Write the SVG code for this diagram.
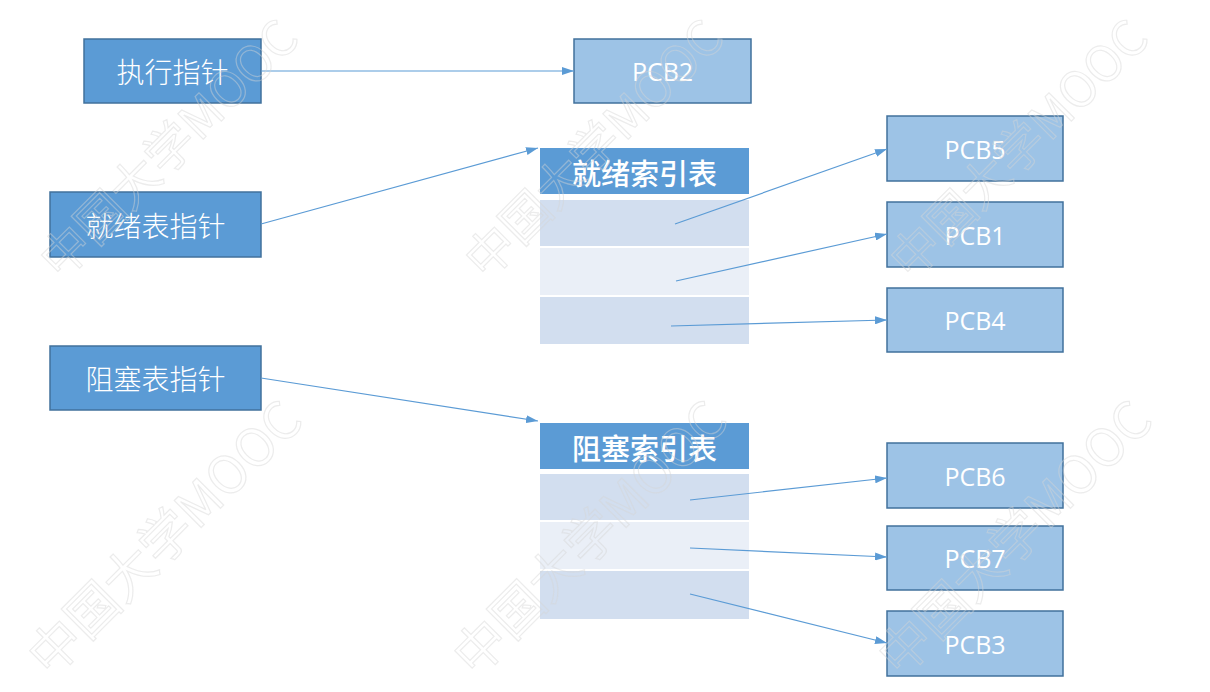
<svg xmlns="http://www.w3.org/2000/svg" width="1210" height="692" viewBox="0 0 1210 692">
  <defs>
    <marker id="arrow" viewBox="0 0 12 8" refX="12" refY="4" markerWidth="12" markerHeight="8" markerUnits="userSpaceOnUse" orient="auto">
      <path d="M0,0 L12,4 L0,8 Z" fill="#5b9bd5"/>
    </marker>
    <style>
      .ptr { fill: #5b9bd5; stroke: #41719c; stroke-width: 1.5; }
      .pcb { fill: #9dc3e6; stroke: #41719c; stroke-width: 1.5; }
      .hdr { fill: #5b9bd5; }
      .odd { fill: #d2deef; }
      .even { fill: #eaeff7; }
      .cn { font-family: "Noto Sans CJK SC", sans-serif; font-size: 28px; font-weight: 300; fill: #ffffff; text-anchor: middle; dominant-baseline: central; }
      .cnb { font-family: "Noto Sans CJK SC", sans-serif; font-size: 29px; font-weight: 500; fill: #ffffff; text-anchor: middle; dominant-baseline: central; }
      .en { font-family: "Open Sans", "Liberation Sans", sans-serif; font-size: 25px; fill: #ffffff; text-anchor: middle; dominant-baseline: central; }
      .link { stroke: #5b9bd5; stroke-width: 1.2; fill: none; marker-end: url(#arrow); }
      .wm { font-family: "Noto Sans CJK SC", sans-serif; font-size: 52px; fill: none; stroke: #d4d4d4; stroke-opacity: 0.45; stroke-width: 1.2; text-anchor: middle; dominant-baseline: central; }
      .wm-top { font-size: 49px; }
    </style>
  </defs>

  <rect width="1210" height="692" fill="#ffffff"/>

  <!-- pointers -->
  <g id="exec-ptr">
    <rect class="ptr" x="84" y="39" width="177" height="64"/>
    <text class="cn" x="172.5" y="71">执行指针</text>
  </g>
  <g id="ready-ptr">
    <rect class="ptr" x="50" y="192" width="211" height="65"/>
    <text class="cn" x="155.5" y="224.5">就绪表指针</text>
  </g>
  <g id="blocked-ptr">
    <rect class="ptr" x="50" y="346" width="211" height="64"/>
    <text class="cn" x="155.5" y="378">阻塞表指针</text>
  </g>

  <!-- running PCB -->
  <g id="pcb2">
    <rect class="pcb" x="574" y="39" width="177" height="64"/>
    <text class="en" x="662.5" y="71">PCB2</text>
  </g>

  <!-- ready index table -->
  <g id="ready-table">
    <rect class="hdr" x="540" y="148" width="209" height="46"/>
    <text class="cnb" x="644.5" y="172">就绪索引表</text>
    <rect class="odd" x="540" y="200" width="209" height="46"/>
    <rect class="even" x="540" y="248" width="209" height="47"/>
    <rect class="odd" x="540" y="297" width="209" height="47"/>
  </g>

  <!-- blocked index table -->
  <g id="blocked-table">
    <rect class="hdr" x="540" y="423" width="209" height="46"/>
    <text class="cnb" x="644.5" y="447">阻塞索引表</text>
    <rect class="odd" x="540" y="474" width="209" height="46"/>
    <rect class="even" x="540" y="522" width="209" height="47"/>
    <rect class="odd" x="540" y="571" width="209" height="48"/>
  </g>

  <!-- ready PCBs -->
  <g id="pcb5">
    <rect class="pcb" x="887" y="116" width="176" height="65"/>
    <text class="en" x="975" y="148.5">PCB5</text>
  </g>
  <g id="pcb1">
    <rect class="pcb" x="887" y="202" width="176" height="65"/>
    <text class="en" x="975" y="234.5">PCB1</text>
  </g>
  <g id="pcb4">
    <rect class="pcb" x="887" y="288" width="176" height="64"/>
    <text class="en" x="975" y="320">PCB4</text>
  </g>

  <!-- blocked PCBs -->
  <g id="pcb6">
    <rect class="pcb" x="887" y="443" width="176" height="65"/>
    <text class="en" x="975" y="475.5">PCB6</text>
  </g>
  <g id="pcb7">
    <rect class="pcb" x="887" y="526" width="176" height="64"/>
    <text class="en" x="975" y="558">PCB7</text>
  </g>
  <g id="pcb3">
    <rect class="pcb" x="887" y="611" width="176" height="65"/>
    <text class="en" x="975" y="643.5">PCB3</text>
  </g>

  <!-- connectors -->
  <g id="connectors">
    <line class="link" x1="261" y1="71" x2="574" y2="71"/>
    <line class="link" x1="261" y1="224" x2="538" y2="148"/>
    <line class="link" x1="261" y1="378" x2="538" y2="421"/>
    <line class="link" x1="675" y1="224" x2="887" y2="149"/>
    <line class="link" x1="676" y1="281" x2="887" y2="234"/>
    <line class="link" x1="671" y1="326" x2="887" y2="320"/>
    <line class="link" x1="690" y1="500" x2="887" y2="478"/>
    <line class="link" x1="690" y1="548" x2="887" y2="557"/>
    <line class="link" x1="690" y1="594" x2="887" y2="643"/>
  </g>

  <!-- faint diagonal watermark laid over the whole sheet -->
  <g id="watermark">
    <text class="wm wm-top" transform="translate(166,146) rotate(-45)">中国大学MOOC</text>
    <text class="wm wm-top" transform="translate(591,146) rotate(-45)">中国大学MOOC</text>
    <text class="wm wm-top" transform="translate(1016,146) rotate(-45)">中国大学MOOC</text>
    <text class="wm" transform="translate(162,535) rotate(-45)">中国大学MOOC</text>
    <text class="wm" transform="translate(587,535) rotate(-45)">中国大学MOOC</text>
    <text class="wm" transform="translate(1012,535) rotate(-45)">中国大学MOOC</text>
  </g>
</svg>
